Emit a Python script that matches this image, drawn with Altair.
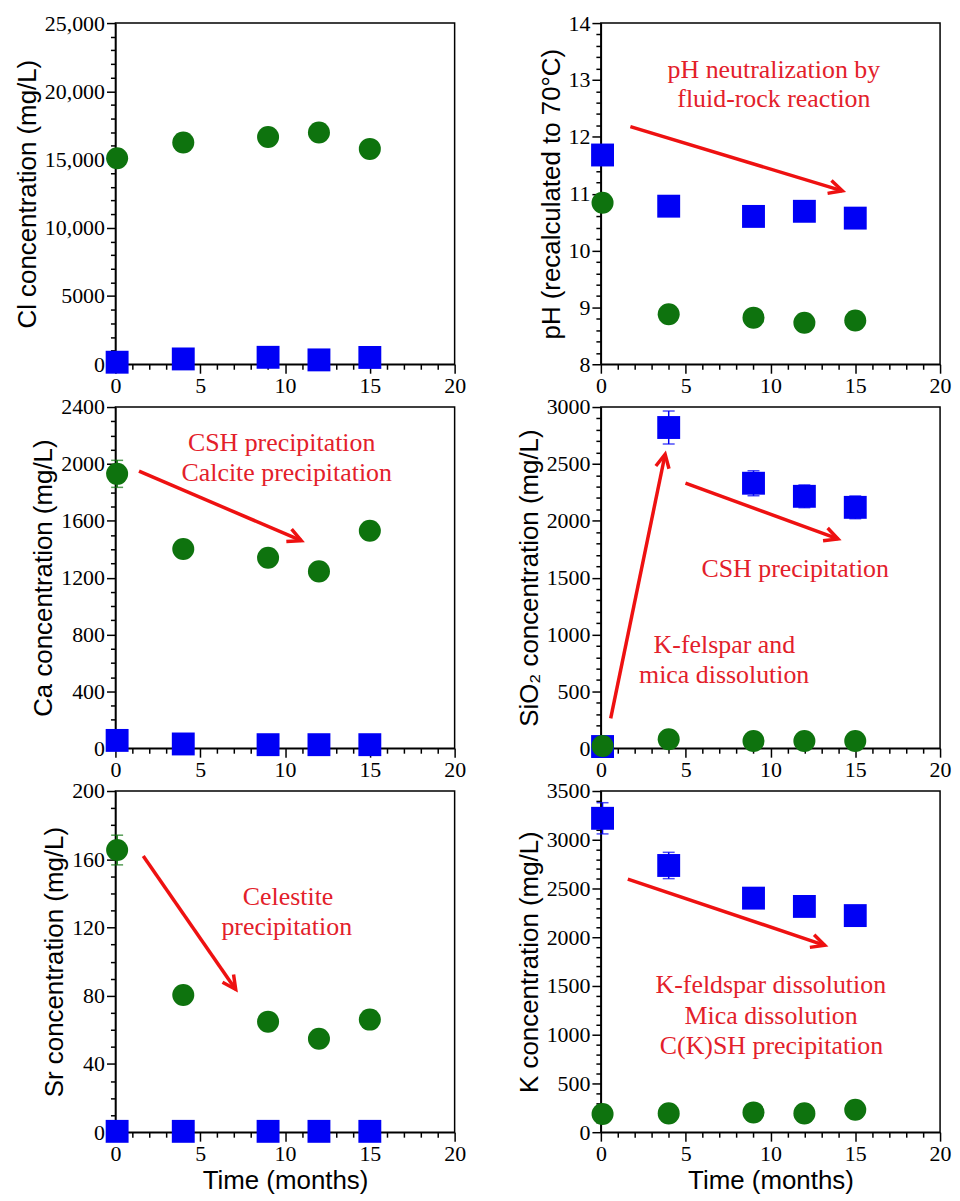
import math
import altair as alt
import pandas as pd

# ---------------- data ----------------
TIME = [0.1, 4, 9, 12, 15]

CL_CIRCLE = [15100, 16250, 16650, 16980, 15780]
CL_CIRCLE_ERR = [350, 450, 500, 500, 400]
CL_SQUARE = [150, 390, 510, 320, 500]
CL_SQUARE_ERR = [0, 0, 0, 0, 0]

PH_SQUARE = [11.68, 10.78, 10.60, 10.69, 10.57]
PH_SQUARE_ERR = [0, 0, 0, 0, 0]
PH_CIRCLE = [10.84, 8.88, 8.82, 8.73, 8.77]
PH_CIRCLE_ERR = [0, 0, 0, 0, 0]

CA_CIRCLE = [1930, 1402, 1340, 1244, 1530]
CA_CIRCLE_ERR = [95, 30, 30, 30, 45]
CA_SQUARE = [55, 30, 25, 25, 25]
CA_SQUARE_ERR = [0, 0, 0, 0, 0]

SIO2_SQUARE = [15, 2820, 2330, 2215, 2118]
SIO2_SQUARE_ERR = [0, 145, 110, 100, 100]
SIO2_CIRCLE = [20, 79, 64, 64, 64]
SIO2_CIRCLE_ERR = [0, 0, 0, 0, 0]

SR_CIRCLE = [165.4, 80.4, 64.8, 54.8, 66.0]
SR_CIRCLE_ERR = [8.7, 0, 0, 0, 0]
SR_SQUARE = [0.5, 0.5, 0.5, 0.5, 0.5]
SR_SQUARE_ERR = [0, 0, 0, 0, 0]

K_SQUARE = [3220, 2736, 2401, 2316, 2222]
K_SQUARE_ERR = [160, 135, 100, 80, 70]
K_CIRCLE = [186, 193, 203, 193, 230]
K_CIRCLE_ERR = [0, 0, 0, 0, 0]

# annotation text lines: (text, x, y)
PH_NOTES = [("pH neutralization by", 10.2, 13.18), ("fluid-rock reaction", 10.2, 12.66)]
CA_NOTES = [("CSH precipitation", 9.8, 2144), ("Calcite precipitation", 10.1, 1935)]
SIO2_NOTES = [("CSH precipitation", 11.46, 1577), ("K-felspar and", 7.28, 906),
              ("mica dissolution", 7.27, 643)]
SR_NOTES = [("Celestite", 10.18, 137.9), ("precipitation", 10.1, 120.2)]
K_NOTES = [("K-feldspar dissolution", 10.02, 1505), ("Mica dissolution", 10.04, 1190),
           ("C(K)SH precipitation", 10.06, 879)]

# arrows: (x start, y start, x tip, y tip)
PH_ARROWS = [(1.74, 12.18, 14.24, 11.05)]
CA_ARROWS = [(1.39, 1949, 10.96, 1460)]
SIO2_ARROWS = [(0.58, 263, 3.79, 2585), (4.99, 2331, 13.98, 1840)]
SR_ARROWS = [(1.64, 161.9, 7.09, 83.7)]
K_ARROWS = [(1.59, 2597, 13.2, 1917)]

# ---------------- styling ----------------
W, H = 341, 343
XMIN, XMAX = 0, 20
BLUE = "#0000f5"
GREEN = "#0e730e"
RED = "#ee1111"
RED_TEXT = "#e3202a"
CHEVRON = "M-0.45,0.9L0,0L0.45,0.9"


def major_test(step):
    return f"abs(datum.value / {step} - round(datum.value / {step})) < 1e-6"


def make_axis(lo, hi, minor, major, title, label_fmt):
    n = int(round((hi - lo) / minor))
    vals = [round(lo + i * minor, 6) for i in range(n + 1)]
    test = major_test(major)
    return alt.Axis(
        values=vals,
        labelExpr=f"({test}) ? ({label_fmt}) : ''",
        tickSize={"condition": {"test": test, "value": 9}, "value": 5},
        title=title,
    )


def panel(ytitle, ydom, minor, major, label_fmt, squares, sq_err, circles, ci_err,
          notes, arrows, xtitle):
    yaxis = make_axis(ydom[0], ydom[1], minor, major, ytitle, label_fmt)
    xaxis = make_axis(XMIN, XMAX, 1, 5, xtitle, "format(datum.value, 'd')")
    xs = alt.Scale(domain=[XMIN, XMAX], nice=False, zero=False)
    ys = alt.Scale(domain=list(ydom), nice=False, zero=False)

    def X(f):
        return alt.X(f, type="quantitative", scale=xs, axis=xaxis, title=xtitle)

    def Y(f):
        return alt.Y(f, type="quantitative", scale=ys, axis=yaxis, title=ytitle)

    layers = []
    for vals, errs, color, shape, size in [
        (squares, sq_err, BLUE, "square", 530),
        (circles, ci_err, GREEN, "circle", 490),
    ]:
        df = pd.DataFrame({"time": TIME, "value": vals, "err": errs})
        df["lo"] = df["value"] - df["err"]
        df["hi"] = df["value"] + df["err"]
        edf = df[df["err"] > 0]
        if len(edf):
            layers.append(
                alt.Chart(edf).mark_rule(color=color, strokeWidth=1.5).encode(
                    x=X("time"), y=Y("lo"), y2="hi")
            )
            caps = pd.DataFrame({
                "time": list(edf["time"]) * 2,
                "cap": list(edf["lo"]) + list(edf["hi"]),
            })
            layers.append(
                alt.Chart(caps).mark_tick(orient="horizontal", color=color, size=12,
                                          thickness=1.5).encode(x=X("time"), y=Y("cap"))
            )
        layers.append(
            alt.Chart(df).mark_point(shape=shape, filled=True, size=size, color=color,
                                     opacity=1).encode(x=X("time"), y=Y("value"))
        )

    if arrows:
        pxx = W / (XMAX - XMIN)
        pxy = H / (ydom[1] - ydom[0])
        rows = []
        for ax, ay, bx, by in arrows:
            dx = (bx - ax) * pxx
            dy = -(by - ay) * pxy
            ang = math.degrees(math.atan2(dx, -dy)) % 360
            rows.append({"ax": ax, "ay": ay, "bx": bx, "by": by, "angle": ang})
        adf = pd.DataFrame(rows)
        layers.append(
            alt.Chart(adf).mark_rule(color=RED, strokeWidth=3.5).encode(
                x=X("ax"), y=Y("ay"), x2="bx", y2="by")
        )
        layers.append(
            alt.Chart(adf).mark_point(shape=CHEVRON, size=900, filled=False, color=RED,
                                      strokeWidth=3.5, opacity=1, strokeJoin="miter").encode(
                x=X("bx"), y=Y("by"), angle=alt.Angle("angle:Q", scale=None))
        )

    if notes:
        ndf = pd.DataFrame(notes, columns=["label", "tx", "ty"])
        layers.append(
            alt.Chart(ndf).mark_text(font="Liberation Serif", fontSize=26, color=RED_TEXT,
                                     align="center", baseline="middle").encode(
                x=X("tx"), y=Y("ty"), text="label:N")
        )

    return alt.layer(*layers).properties(width=W, height=H)


INT_FMT = "format(datum.value, 'd')"
CL_FMT = "datum.value >= 10000 ? format(datum.value, ',') : format(datum.value, 'd')"

p_cl = panel("Cl concentration (mg/L)", (0, 25000), 1000, 5000, CL_FMT,
             CL_SQUARE, CL_SQUARE_ERR, CL_CIRCLE, CL_CIRCLE_ERR, None, None, None)
p_ph = panel("pH (recalculated to 70°C)", (8, 14), 0.2, 1, INT_FMT,
             PH_SQUARE, PH_SQUARE_ERR, PH_CIRCLE, PH_CIRCLE_ERR, PH_NOTES, PH_ARROWS, None)
p_ca = panel("Ca concentration (mg/L)", (0, 2400), 100, 400, INT_FMT,
             CA_SQUARE, CA_SQUARE_ERR, CA_CIRCLE, CA_CIRCLE_ERR, CA_NOTES, CA_ARROWS, None)
p_si = panel("SiO₂ concentration (mg/L)", (0, 3000), 100, 500, INT_FMT,
             SIO2_SQUARE, SIO2_SQUARE_ERR, SIO2_CIRCLE, SIO2_CIRCLE_ERR, SIO2_NOTES,
             SIO2_ARROWS, None)
p_sr = panel("Sr concentration (mg/L)", (0, 200), 10, 40, INT_FMT,
             SR_SQUARE, SR_SQUARE_ERR, SR_CIRCLE, SR_CIRCLE_ERR, SR_NOTES, SR_ARROWS,
             "Time (months)")
p_k = panel("K concentration (mg/L)", (0, 3500), 100, 500, INT_FMT,
            K_SQUARE, K_SQUARE_ERR, K_CIRCLE, K_CIRCLE_ERR, K_NOTES, K_ARROWS,
            "Time (months)")

chart = alt.concat(
    p_cl, p_ph, p_ca, p_si, p_sr, p_k,
    columns=2, spacing={"row": 43, "column": 147}, bounds="flush",
).properties(
    padding={"left": 5, "top": 0, "right": 0, "bottom": 0}
).configure_view(
    stroke="black", strokeWidth=1.5
).configure_axis(
    domainColor="black", domainWidth=1.5, tickColor="black", tickWidth=1.5,
    labelFont="Liberation Serif", labelFontSize=22, labelColor="black",
    titleFont="Liberation Sans", titleFontSize=26, titleFontWeight="normal",
    titleColor="black", grid=False, labelPadding=2, titlePadding=4,
    labelOverlap=False, labelFlush=False,
)

chart.save("out.html", embed_options={"renderer": "svg", "actions": False})
